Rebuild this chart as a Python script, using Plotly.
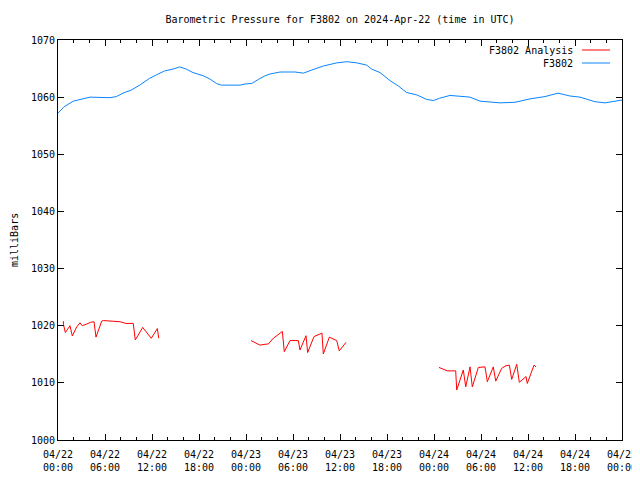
import datetime as dt
import plotly.graph_objects as go

base = dt.datetime(2024, 4, 22, 0, 0)

# F3802 observed (hours since 2024-04-22 00:00 UTC, mb)
obs_hours = [0.0, 0.77, 1.95, 3.66, 4.09, 6.64, 7.45, 8.3, 9.37, 10.43, 11.7, 12.56, 13.62,
             14.68, 15.53, 16.38, 17.23, 18.52, 19.37, 20.22, 20.86, 21.97, 23.24, 23.88,
             24.73, 25.58, 26.45, 27.06, 28.35, 30.26, 31.34, 32.4, 33.88, 35.59, 36.87,
             38.15, 39.41, 40.05, 41.11, 42.38, 43.45, 44.52, 45.8, 47.07, 47.92, 48.69,
             50.04, 52.6, 53.87, 56.43, 58.34, 60.26, 62.17, 63.83, 65.36, 66.64, 68.55,
             69.83, 71.11, 72.0]
obs_mb = [1057.2, 1058.3, 1059.3, 1059.8, 1060.0, 1059.9, 1060.1, 1060.7, 1061.25, 1062.1,
          1063.3, 1063.9, 1064.6, 1064.9, 1065.3, 1064.9, 1064.3, 1063.75, 1063.2, 1062.4,
          1062.1, 1062.1, 1062.1, 1062.3, 1062.4, 1063.1, 1063.75, 1064.05, 1064.4, 1064.4,
          1064.2, 1064.75, 1065.45, 1066.0, 1066.2, 1066.0, 1065.6, 1064.9, 1064.3, 1062.9,
          1061.95, 1060.8, 1060.4, 1059.6, 1059.4, 1059.8, 1060.3, 1060.0, 1059.3, 1059.0,
          1059.1, 1059.7, 1060.1, 1060.7, 1060.2, 1060.0, 1059.2, 1059.0, 1059.3, 1059.5]

# F3802 Analysis segments
ana1_hours = [0.68, 0.7, 0.94, 1.53, 1.83, 2.39, 2.81, 3.1, 3.66, 4.17, 4.6, 4.85, 5.58,
              5.78, 7.92, 8.68, 9.61, 9.87, 10.81, 11.91, 12.68, 12.86]
ana1_mb = [1020.8, 1020.2, 1018.8, 1020.0, 1018.2, 1019.8, 1020.5, 1020.0, 1020.3, 1020.6,
           1020.7, 1018.0, 1020.8, 1020.9, 1020.7, 1020.4, 1020.4, 1017.5, 1019.7, 1017.8,
           1019.5, 1017.8]
ana2_hours = [24.64, 24.94, 25.79, 26.43, 26.85, 27.49, 28.13, 28.64, 28.89, 29.62, 30.68,
              30.89, 31.66, 31.87, 32.68, 33.1, 33.7, 33.87, 34.64, 35.24, 35.58, 35.91, 36.77]
ana2_mb = [1017.4, 1017.2, 1016.6, 1016.75, 1016.8, 1017.8, 1018.4, 1019.0, 1015.45, 1017.4,
           1017.4, 1015.75, 1018.25, 1015.3, 1018.1, 1018.4, 1018.7, 1015.05, 1018.0, 1017.6,
           1017.4, 1015.6, 1017.1]
ana3_hours = [48.64, 49.19, 49.7, 50.77, 50.9, 51.74, 52.05, 52.6, 52.89, 53.66, 54.51,
              54.81, 55.57, 55.88, 56.64, 57.19, 57.62, 57.92, 58.56, 58.89, 59.75, 59.91,
              60.77, 61.02]
ana3_mb = [1012.7, 1012.4, 1012.1, 1012.1, 1008.75, 1012.25, 1009.3, 1012.8, 1009.3, 1012.7,
           1012.8, 1010.2, 1012.8, 1010.3, 1012.55, 1013.0, 1013.1, 1010.6, 1013.25, 1010.1,
           1011.1, 1009.9, 1013.1, 1012.8]

RED = "#ff0000"
BLUE = "#0a84ff"
FONT = "DejaVu Sans Mono"
FS = 10

# page has an 8px body margin; offset the plot area accordingly
W, H = 640, 464
L, T = 50, 32
PW, PH = 564, 400
R, B = W - L - PW, H - T - PH


def to_t(hours):
    return [base + dt.timedelta(hours=h) for h in hours]


ana_x, ana_y = [], []
for hs, ms in [(ana1_hours, ana1_mb), (ana2_hours, ana2_mb), (ana3_hours, ana3_mb)]:
    ana_x += to_t(hs) + [None]
    ana_y += ms + [None]

fig = go.Figure()
fig.add_trace(go.Scatter(x=ana_x, y=ana_y, mode="lines", name="F3802 Analysis",
                         line=dict(color=RED, width=1), connectgaps=False))
fig.add_trace(go.Scatter(x=to_t(obs_hours), y=obs_mb, mode="lines", name="F3802",
                         line=dict(color=BLUE, width=1)))

fig.update_layout(
    width=W, height=H,
    margin=dict(l=L, r=R, t=T, b=B, autoexpand=False),
    paper_bgcolor="white", plot_bgcolor="white",
    showlegend=False,
    font=dict(family=FONT, size=FS, color="black"),
    title=dict(text="Barometric Pressure for F3802 on 2024-Apr-22 (time in UTC)",
               x=0.5, xanchor="center", xref="paper", y=1 - 11 / H, yanchor="middle",
               font=dict(family=FONT, size=FS, color="black")),
)
fig.update_xaxes(
    type="date", automargin=False,
    range=[base, base + dt.timedelta(hours=72)],
    dtick=6 * 3600 * 1000, tick0=base,
    tickformat="%m/%d<br>%H:%M",
    ticks="inside", ticklen=6, tickcolor="black",
    minor=dict(dtick=2 * 3600 * 1000, ticks="inside", ticklen=3, tickcolor="black"),
    showgrid=False, zeroline=False,
    showline=True, linecolor="black", linewidth=1, mirror="ticks",
    tickfont=dict(family=FONT, size=FS),
    ticklabelstandoff=5, ticklabeloverflow="allow",
)
fig.update_yaxes(
    automargin=False,
    range=[1000, 1070], dtick=10, tick0=1000,
    ticks="inside", ticklen=6, tickcolor="black",
    showgrid=False, zeroline=False,
    showline=True, linecolor="black", linewidth=1, mirror="ticks",
    tickfont=dict(family=FONT, size=FS),
)

fig.add_annotation(x=-44 / PW, y=0.5, xref="paper", yref="paper", text="milliBars",
                   textangle=-90, showarrow=False, xanchor="center", yanchor="middle",
                   font=dict(family=FONT, size=FS))

# legend drawn gnuplot-style (text then line sample)
legend_items = [("F3802 Analysis", RED), ("F3802", BLUE)]
for i, (name, col) in enumerate(legend_items):
    ypx = 10 + 13 * i
    yp = 1 - ypx / PH
    fig.add_annotation(x=517 / PW, y=yp, xref="paper", yref="paper",
                       text=name, showarrow=False, xanchor="right", yanchor="middle",
                       font=dict(family=FONT, size=FS))
    fig.add_shape(type="line", xref="paper", yref="paper",
                  x0=524 / PW, x1=552 / PW, y0=yp, y1=yp,
                  line=dict(color=col, width=1))

fig.write_html("out.html")
